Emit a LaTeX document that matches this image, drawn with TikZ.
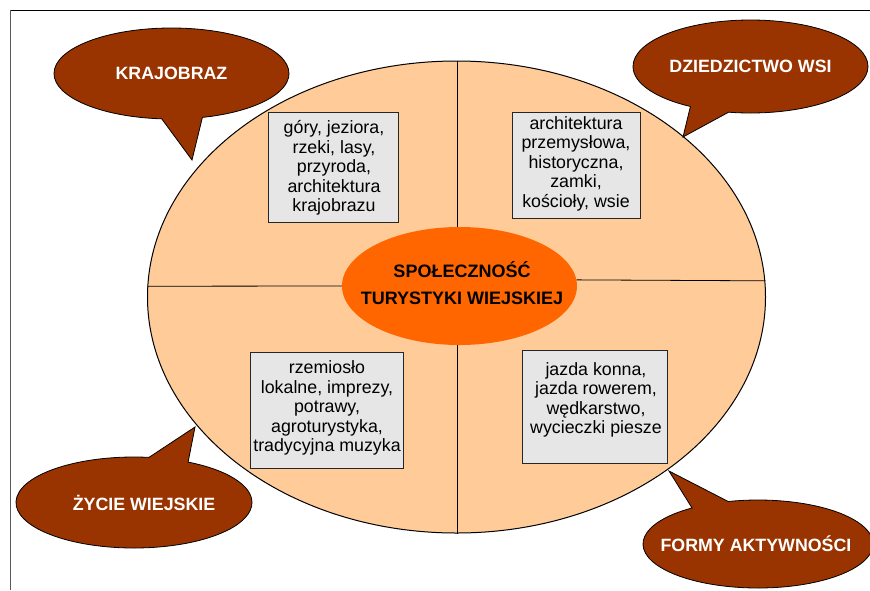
\documentclass[tikz,border=0pt]{standalone}
\usepackage{fontspec}
\setmainfont{Liberation Sans}
\usetikzlibrary{shapes.geometric,shapes.callouts}
\definecolor{peach}{HTML}{FFCC99}
\definecolor{corecol}{HTML}{FF6600}
\definecolor{bubblecol}{HTML}{993300}
\definecolor{boxgray}{HTML}{E6E6E6}
\begin{document}
\begin{tikzpicture}[x=1pt,y=-1pt,
  bubble/.style={ellipse callout, fill=bubblecol, draw=black, line width=0.8pt,
    inner sep=0pt, callout pointer arc=20, text=white,
    font=\bfseries\fontsize{17.8}{20}\selectfont},
  infobox/.style={draw=black!85, fill=boxgray, line width=0.8pt, inner sep=0pt},
  infotext/.style={align=center, inner sep=0pt, font=\fontsize{17.8}{19.5}\selectfont},
  coretext/.style={align=center, inner sep=0pt, font=\bfseries\fontsize{18}{27}\selectfont},
  divider/.style={draw=black, line width=0.8pt}]
\useasboundingbox (0,0) rectangle (870,590);
% frame
\coordinate (frTL) at (10,10);
\coordinate (frTR) at (870,10);
\coordinate (frBL) at (10,590);
\draw[black, line width=0.9pt] (frTR) -- (frTL);
\draw[black!65, line width=0.9pt] (frTL) -- (frBL);
% big ellipse
\node[ellipse, minimum width=618pt, minimum height=472pt, fill=peach, draw=black,
  line width=1pt, inner sep=0pt] (big) at (456.5,297) {};
\node[ellipse, minimum width=235pt, minimum height=118pt, fill=corecol,
  inner sep=0pt] (core) at (459.5,286) {};
% dividers
\coordinate (vx) at (457.7,0);
\draw[divider] (vx |- big.north) -- (vx |- core.north);
\draw[divider] (vx |- core.south) -- (vx |- big.south);
\draw[divider] (big.178) -- (core.west);
\draw[divider] (core.3.4) -- (big.3.3);
\node[coretext] (coretxt) at (462,283.5) {SPOŁECZNOŚĆ\\TURYSTYKI WIEJSKIEJ};
% boxes
\node[infobox, minimum width=130pt, minimum height=110pt] (b1) at (333,167) {};
\node[infotext] (t1) at (334,168) {góry, jeziora,\\rzeki, lasy,\\przyroda,\\architektura\\krajobrazu};
\node[infobox, minimum width=128pt, minimum height=106pt] (b2) at (576,165) {};
\node[infotext] (t2) at (576,163.5) {architektura\\przemysłowa,\\historyczna,\\zamki,\\kościoły, wsie};
\node[infobox, minimum width=153pt, minimum height=116pt] (b3) at (327,410) {};
\node[infotext] (t3) at (327,408) {rzemiosło\\lokalne, imprezy,\\potrawy,\\agroturystyka,\\tradycyjna muzyka};
\node[infobox, minimum width=145pt, minimum height=113pt] (b4) at (594.5,406.5) {};
\node[infotext] (t4) at (596,400) {jazda konna,\\jazda rowerem,\\wędkarstwo,\\wycieczki piesze};
% bubbles
\node[bubble, minimum width=235pt, minimum height=91pt,
  callout absolute pointer={(192,160)}] (krajobraz) at (171.5,73.5) {\makebox[0pt]{KRAJOBRAZ}};
\node[bubble, minimum width=235pt, minimum height=93pt,
  callout absolute pointer={(683,137)}] (dziedzictwo) at (750.5,66.5) {\makebox[0pt]{DZIEDZICTWO WSI}};
\node[bubble, minimum width=236pt, minimum height=91pt,
  callout absolute pointer={(195,427)}] (zycie) at (134,502.5) {\makebox[0pt]{\hspace{20pt}ŻYCIE WIEJSKIE}};
\node[bubble, minimum width=230pt, minimum height=88pt,
  callout absolute pointer={(669,471)}] (formy) at (758,544) {\makebox[0pt]{FORMY AKTYWNOŚCI\hspace{4pt}}};
\end{tikzpicture}
\end{document}
